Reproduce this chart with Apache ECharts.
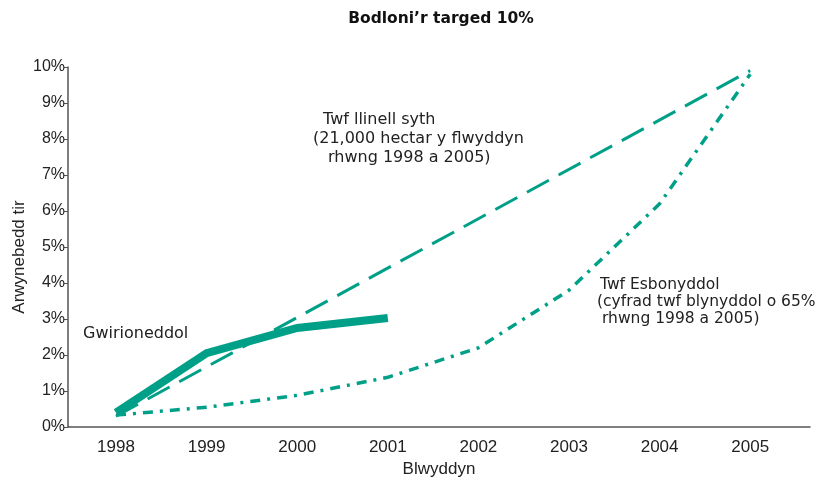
<!DOCTYPE html>
<html><head><meta charset="utf-8">
<script src="https://cdn.jsdelivr.net/npm/echarts@6/dist/echarts.min.js"></script>
<style>html,body{margin:0;padding:0;background:#fff}#c{width:816px;height:484px}</style>
</head><body><div id="c"></div>
<script>
var years = [1998, 1999, 2000, 2001, 2002, 2003, 2004, 2005];
var yTicks = [0,1,2,3,4,5,6,7,8,9,10];
var actualYears = [1998, 1999, 2000, 2001];
var actualValues = [0.4, 2.05, 2.75, 3.03];
var straightYears = [1998, 2005];
var straightValues = [0.3, 9.9];
var expYears = [1998, 1999, 2000, 2001, 2002, 2003, 2004, 2005];
var expValues = [0.33, 0.55, 0.88, 1.38, 2.2, 3.8, 6.2, 9.8];

function pairs(xs, ys){ return xs.map(function(x,i){ return [x, ys[i]]; }); }
var teal = '#00A088';
var font = 'Liberation Sans';
var dv = 'DejaVu Sans';
var chart = echarts.init(document.getElementById('c'));
chart.setOption({
  backgroundColor:'#fff',
  animation:false,
  title:{text:'Bodloni\u2019r targed 10%', left:436, textAlign:'center', top:6,
    textStyle:{fontFamily:dv, fontSize:15.5, fontWeight:'bold', color:'#111'}},
  grid:{left:68, right:6, top:67, bottom:57},
  xAxis:{type:'value', min:1997.47, max:2005.66,
    name:'Blwyddyn', nameLocation:'middle', nameGap:34,
    nameTextStyle:{fontFamily:font, fontSize:17, color:'#222'},
    axisLine:{lineStyle:{color:'#555', width:1.5}},
    axisTick:{show:false}, splitLine:{show:false},
    axisLabel:{customValues:years, fontFamily:font, fontSize:17, color:'#222', margin:12,
      formatter:function(v){return String(v);}}},
  yAxis:{type:'value', min:0, max:10, interval:1,
    axisLine:{show:true, lineStyle:{color:'#555', width:1.5}},
    axisTick:{show:true, length:4, lineStyle:{color:'#555'}},
    splitLine:{show:false},
    axisLabel:{fontFamily:font, fontSize:16, color:'#222', margin:3,
      formatter:function(v){return v + '%';}}},
  series:[
    {type:'line', name:'straight', data:pairs(straightYears, straightValues), symbol:'none',
      lineStyle:{color:teal, width:3, type:[25,11]}, z:2},
    {type:'line', name:'exp', data:pairs(expYears, expValues), symbol:'none',
      lineStyle:{color:teal, width:3.5, type:[10,7,3,7]}, z:2},
    {type:'line', name:'actual', data:pairs(actualYears, actualValues), symbol:'none',
      lineStyle:{color:teal, width:8, cap:'butt', join:'miter'}, z:3}
  ],
  graphic:[
    {type:'text', x:19, y:257, rotation:Math.PI/2, style:{text:'Arwynebedd tir', font:'17px '+font, fill:'#222', align:'center', verticalAlign:'middle'}},
    {type:'text', left:323, top:112, style:{text:'Twf llinell syth', font:'16px '+dv, fill:'#222'}},
    {type:'text', left:313, top:131, style:{text:'(21,000 hectar y flwyddyn', font:'16px '+dv, fill:'#222'}},
    {type:'text', left:328, top:150, style:{text:'rhwng 1998 a 2005)', font:'16px '+dv, fill:'#222'}},
    {type:'text', left:600, top:277, style:{text:'Twf Esbonyddol', font:'15.5px '+dv, fill:'#222'}},
    {type:'text', left:597, top:294, style:{text:'(cyfrad twf blynyddol o 65%', font:'15.5px '+dv, fill:'#222'}},
    {type:'text', left:602, top:311, style:{text:'rhwng 1998 a 2005)', font:'15.5px '+dv, fill:'#222'}},
    {type:'text', left:83, top:326, style:{text:'Gwirioneddol', font:'16px '+dv, fill:'#222'}}
  ]
});
</script></body></html>
